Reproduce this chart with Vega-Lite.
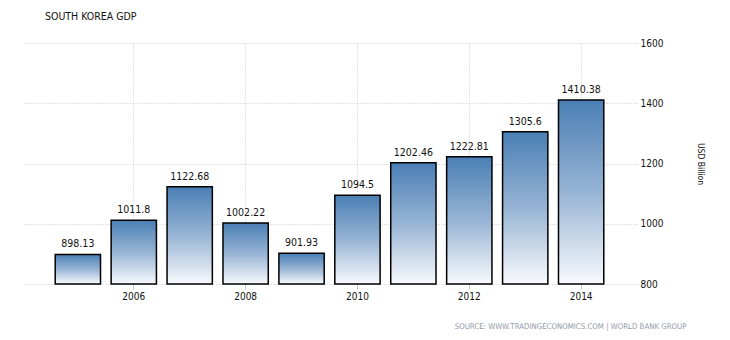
{
  "$schema": "https://vega.github.io/schema/vega-lite/v6.json",
  "autosize": "none",
  "width": 615,
  "height": 241,
  "padding": {"left": 22, "top": 43, "right": 93, "bottom": 56},
  "background": "white",
  "title": {
    "text": "SOUTH KOREA GDP",
    "anchor": "start",
    "dx": 23,
    "offset": 16,
    "font": "DejaVu Sans Condensed",
    "fontSize": 10.5,
    "fontWeight": "normal",
    "color": "#111111"
  },
  "config": {
    "view": {"stroke": null},
    "axis": {
      "labelFont": "DejaVu Sans Condensed",
      "labelFontSize": 10,
      "labelColor": "#111111",
      "gridColor": "#c8c8c8",
      "gridDash": [1, 2],
      "gridWidth": 1,
      "domain": false
    }
  },
  "data": {
    "values": [
      {"year": 2005, "gdp": 898.13, "label": "898.13"},
      {"year": 2006, "gdp": 1011.8, "label": "1011.8"},
      {"year": 2007, "gdp": 1122.68, "label": "1122.68"},
      {"year": 2008, "gdp": 1002.22, "label": "1002.22"},
      {"year": 2009, "gdp": 901.93, "label": "901.93"},
      {"year": 2010, "gdp": 1094.5, "label": "1094.5"},
      {"year": 2011, "gdp": 1202.46, "label": "1202.46"},
      {"year": 2012, "gdp": 1222.81, "label": "1222.81"},
      {"year": 2013, "gdp": 1305.6, "label": "1305.6"},
      {"year": 2014, "gdp": 1410.38, "label": "1410.38"}
    ]
  },
  "encoding": {
    "x": {
      "field": "year",
      "type": "ordinal",
      "scale": {"paddingInner": 0.19, "paddingOuter": 0.594},
      "axis": {
        "values": [2006, 2008, 2010, 2012, 2014],
        "labelAngle": 0,
        "grid": true,
        "ticks": true,
        "tickColor": "#c8c8c8",
        "tickSize": 5,
        "labelPadding": 2,
        "title": "SOURCE: WWW.TRADINGECONOMICS.COM | WORLD BANK GROUP",
        "titleFont": "DejaVu Sans Condensed",
        "titleFontSize": 7.8,
        "titleFontWeight": "normal",
        "titleColor": "#8f9aa8",
        "titleAnchor": "end",
        "titleAlign": "right",
        "titleX": 664,
        "titleY": 38
      }
    },
    "y": {
      "field": "gdp",
      "type": "quantitative",
      "scale": {"domain": [800, 1600], "zero": false, "nice": false},
      "axis": {
        "orient": "right",
        "values": [800, 1000, 1200, 1400, 1600],
        "format": "d",
        "ticks": false,
        "labelPadding": 3,
        "grid": true,
        "title": "USD Billion",
        "titleFont": "DejaVu Sans Condensed",
        "titleFontSize": 8.5,
        "titleFontWeight": "normal",
        "titleColor": "#111111",
        "titlePadding": 33,
        "titleAngle": 90
      }
    }
  },
  "layer": [
    {
      "mark": {
        "type": "bar",
        "stroke": "#000000",
        "strokeWidth": 1.5,
        "fill": {
          "gradient": "linear",
          "x1": 0, "y1": 0, "x2": 0, "y2": 1,
          "stops": [
            {"offset": 0, "color": "#4a7fb5"},
            {"offset": 0.5, "color": "#97b4d4"},
            {"offset": 1, "color": "#f8fafd"}
          ]
        }
      },
      "encoding": {"y2": {"datum": 800}}
    },
    {
      "mark": {
        "type": "text",
        "baseline": "alphabetic",
        "dy": -7,
        "font": "DejaVu Sans Condensed",
        "fontSize": 10.5,
        "color": "#111111"
      },
      "encoding": {"text": {"field": "label"}}
    }
  ]
}
